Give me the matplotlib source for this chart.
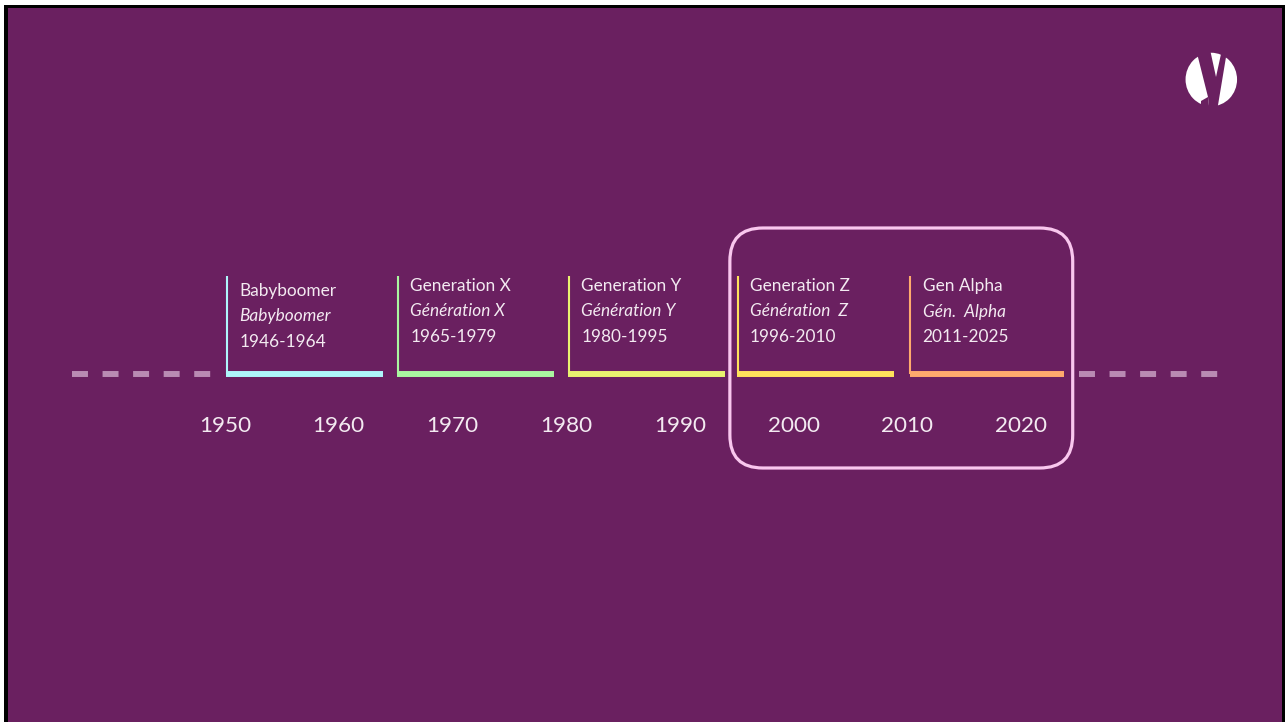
import matplotlib
matplotlib.use("Agg")
import matplotlib.pyplot as plt
from matplotlib.patches import FancyBboxPatch, Ellipse, Polygon, Rectangle

# generations on the timeline
gen_names = ["Babyboomer", "Generation X", "Generation Y", "Generation Z", "Gen Alpha"]
gen_names_fr = ["Babyboomer", "Génération X", "Génération Y", "Génération  Z", "Gén.  Alpha"]
gen_ranges = ["1946-1964", "1965-1979", "1980-1995", "1996-2010", "2011-2025"]
bracket_start = [1950.1, 1965.15, 1980.2, 1995.0, 2010.2]
bracket_end = [1963.9, 1978.9, 1994.0, 2008.85, 2023.8]
gen_colors = ["#AEF6FB", "#AAF7A0", "#E9F26F", "#FFE25B", "#FFAA6D"]

# year ticks along the axis
tick_years = [1950, 1960, 1970, 1980, 1990, 2000, 2010, 2020]

# dashed continuation of the timeline (years)
dash_left = (1936.55, 1948.75)
dash_right = (2025.1, 2037.35)

# highlighted span (Gen Z + Alpha)
highlight_span = (1994.4, 2024.55)

BG = "#6A2060"
TXT = "#F3EAF1"
FONT = "Lato"

W, H = 1285, 722
px0, year0, px_per_year = 225.0, 1950.0, 11.371   # layout of the year scale


def px_to_year(px):
    return year0 + (px - px0) / px_per_year


plt.rcParams["font.family"] = [FONT, "DejaVu Sans"]
plt.rcParams["lines.scale_dashes"] = False

fig = plt.figure(figsize=(W / 100, H / 100), dpi=100, facecolor="white")

# black frame behind the purple slide
frame = Rectangle((4 / W, 0), 1 - 4 / W, 1 - 5 / H,
                  transform=fig.transFigure, facecolor="black",
                  edgecolor="none", zorder=-10)
fig.patches.append(frame)

left, right, top = 8, 1282, 8
ax = fig.add_axes([left / W, 0, (right - left) / W, (H - top) / H])
ax.set_zorder(1)
ax.set_facecolor(BG)
ax.set_xlim(px_to_year(left), px_to_year(right))
ax.set_ylim(H, top)     # y measured in pixels from the top
ax.set_xticks([])
ax.set_yticks([])
for s in ax.spines.values():
    s.set_visible(False)

axis_y = 374
dash_kw = dict(color="#B98BB3", lw=4.3, solid_capstyle="butt",
               dash_capstyle="butt", linestyle=(0, (11.5, 10.5)))
ax.plot(dash_left, [axis_y, axis_y], **dash_kw)
ax.plot(dash_right, [axis_y, axis_y], **dash_kw)

# brackets + labels
for i, name in enumerate(gen_names):
    c = gen_colors[i]
    ax.hlines(axis_y, bracket_start[i], bracket_end[i], colors=c, lw=4.3,
              capstyle="butt", zorder=3)
    ax.vlines(bracket_start[i] + 0.08, 276, axis_y, colors=c, lw=1.5, zorder=3)
    base = 296 if i == 0 else 291
    lines = [(name, "normal"), (gen_names_fr[i], "italic"), (gen_ranges[i], "normal")]
    for k, (txt, style) in enumerate(lines):
        ax.annotate(txt, xy=(bracket_start[i], base + k * 25.5),
                    xytext=(9.4, 0), textcoords="offset points",
                    ha="left", va="baseline", color=TXT, fontsize=12.4,
                    fontstyle=style)

for yr in tick_years:
    ax.text(yr, 432.5, str(yr), ha="center", va="baseline", color=TXT,
            fontsize=16.2)

# rounded highlight box around the latest generations
r_px = 33
box = FancyBboxPatch((highlight_span[0], 228), highlight_span[1] - highlight_span[0], 240,
                     boxstyle=f"round,pad=0,rounding_size={r_px / px_per_year}",
                     mutation_aspect=px_per_year, facecolor="none",
                     edgecolor="#F9C7EE", lw=2.3, zorder=4)
ax.add_patch(box)

# logo (white disc with a purple "y" cut out)
lax = fig.add_axes([1180 / W, 1 - 110 / H, 65 / W, 60 / H])
lax.set_zorder(2)
lax.set_xlim(1180, 1245)
lax.set_ylim(110, 50)
lax.axis("off")
lax.add_patch(Ellipse((1211.3, 79.5), 51.5, 53.5, facecolor="white", edgecolor="none"))
lax.add_patch(Polygon([(1195.7, 48), (1209.7, 48), (1216, 77), (1222.3, 48),
                       (1227.5, 48), (1217.2, 110), (1209.5, 110), (1208, 97)],
                      facecolor=BG, edgecolor="none"))
lax.add_patch(Polygon([(1201, 101), (1208, 97), (1209.5, 110), (1201, 110)],
                      facecolor=BG, edgecolor="none"))

fig.savefig("out.png", dpi=100, facecolor=fig.get_facecolor())
